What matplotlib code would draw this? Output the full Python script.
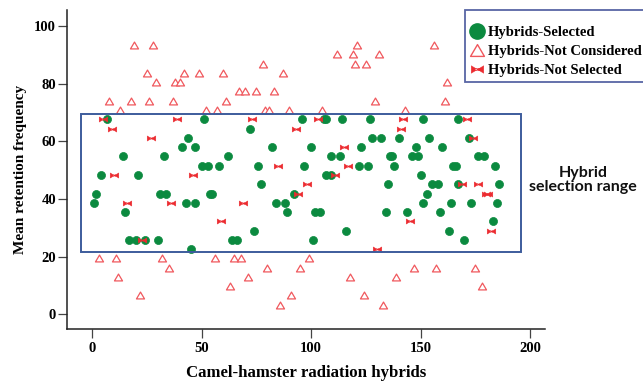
import matplotlib
matplotlib.use('Agg')
import matplotlib.pyplot as plt
from matplotlib.path import Path
from matplotlib.patches import Rectangle
from matplotlib.lines import Line2D

# ---------------- data ----------------
sel_x = [7, 51, 96, 106, 107, 114, 127, 151, 167,
         72,
         44, 128, 132, 140, 154, 172,
         41, 47, 82, 100, 123, 148, 160,
         14, 33, 62, 109, 113, 136, 137, 146, 149, 176, 179,
         50, 53, 58, 76, 97, 122, 126, 138, 165, 166, 184,
         4, 21, 107, 109, 150,
         77, 135, 155, 158, 167, 186,
         2, 31, 34, 54, 55, 92, 153,
         1, 43, 47, 84, 88, 151, 164, 173, 185,
         15, 89, 102, 104, 134, 144, 159,
         183,
         74, 116, 163,
         17, 20, 24, 30, 64, 66, 101, 170,
         45]
sel_y = [67.7, 67.7, 67.7, 67.7, 67.7, 67.7, 67.7, 67.7, 67.7,
         64.5,
         61.3, 61.3, 61.3, 61.3, 61.3, 61.3,
         58.1, 58.1, 58.1, 58.1, 58.1, 58.1, 58.1,
         54.8, 54.8, 54.8, 54.8, 54.8, 54.8, 54.8, 54.8, 54.8, 54.8, 54.8,
         51.6, 51.6, 51.6, 51.6, 51.6, 51.6, 51.6, 51.6, 51.6, 51.6, 51.6,
         48.4, 48.4, 48.4, 48.4, 48.4,
         45.2, 45.2, 45.2, 45.2, 45.2, 45.2,
         41.9, 41.9, 41.9, 41.9, 41.9, 41.9, 41.9,
         38.7, 38.7, 38.7, 38.7, 38.7, 38.7, 38.7, 38.7, 38.7,
         35.5, 35.5, 35.5, 35.5, 35.5, 35.5, 35.5,
         32.3,
         29.0, 29.0, 29.0,
         25.8, 25.8, 25.8, 25.8, 25.8, 25.8, 25.8, 25.8,
         22.6]

nc_x = [19, 28, 121, 156,
        112, 119, 131,
        78, 120, 125,
        25, 42, 49, 60, 87,
        29, 38, 40, 162,
        67, 70, 75, 83,
        8, 18, 26, 37, 61, 129, 161,
        13, 52, 57, 79, 81, 90, 105, 143,
        3, 11, 32, 56, 65, 68, 99,
        35, 80, 95, 147, 157, 175,
        12, 71, 118, 139,
        63, 178,
        22, 91, 124,
        86, 133]
nc_y = [93.5, 93.5, 93.5, 93.5,
        90.3, 90.3, 90.3,
        87.1, 87.1, 87.1,
        83.9, 83.9, 83.9, 83.9, 83.9,
        80.6, 80.6, 80.6, 80.6,
        77.4, 77.4, 77.4, 77.4,
        74.2, 74.2, 74.2, 74.2, 74.2, 74.2, 74.2,
        71.0, 71.0, 71.0, 71.0, 71.0, 71.0, 71.0, 71.0,
        19.4, 19.4, 19.4, 19.4, 19.4, 19.4, 19.4,
        16.1, 16.1, 16.1, 16.1, 16.1, 16.1,
        12.9, 12.9, 12.9, 12.9,
        9.7, 9.7,
        6.5, 6.5, 6.5,
        3.2, 3.2]

ns_x = [5, 39, 73, 103, 142, 171,
        9, 93, 141,
        27, 174,
        115,
        85, 117,
        10, 46, 111,
        98, 169, 176,
        94, 180, 181,
        16, 36, 69,
        59, 145,
        182,
        23,
        130]
ns_y = [67.7, 67.7, 67.7, 67.7, 67.7, 67.7,
        64.5, 64.5, 64.5,
        61.3, 61.3,
        58.1,
        51.6, 51.6,
        48.4, 48.4, 48.4,
        45.2, 45.2, 45.2,
        41.9, 41.9, 41.9,
        38.7, 38.7, 38.7,
        32.3, 32.3,
        29.0,
        25.8,
        22.6]

range_x0, range_x1 = -5, 196
range_y0, range_y1 = 21.5, 69.5

x_ticks = [0, 50, 100, 150, 200]
y_ticks = [0, 20, 40, 60, 80, 100]
labels = ['Hybrids-Selected', 'Hybrids-Not Considered', 'Hybrids-Not Selected']

# ---------------- styles ----------------
GREEN = '#0b8a3f'
TRI = '#f0585d'
BOW = '#ec2b30'
NAVY = '#2f3f8f'
BOXC = '#3d5c9c'
SERIF = 'Liberation Serif'

bow_path = Path(
    [(-1, 0.6), (-1, -0.6), (0, 0), (-1, 0.6),
     (1, 0.6), (1, -0.6), (0, 0), (1, 0.6),
     (-0.35, 0.13), (0.35, 0.13), (0.35, -0.13), (-0.35, -0.13), (-0.35, 0.13)],
    [Path.MOVETO, Path.LINETO, Path.LINETO, Path.CLOSEPOLY,
     Path.MOVETO, Path.LINETO, Path.LINETO, Path.CLOSEPOLY,
     Path.MOVETO, Path.LINETO, Path.LINETO, Path.LINETO, Path.CLOSEPOLY])
tri_path = Path([(0, 0.85), (-1, -0.85), (1, -0.85), (0, 0.85)],
                [Path.MOVETO, Path.LINETO, Path.LINETO, Path.CLOSEPOLY])

fig = plt.figure(figsize=(6.43, 3.83), dpi=100)
ax = fig.add_axes([67 / 643, 54 / 383, 478 / 643, 319 / 383])

ax.plot(nc_x, nc_y, linestyle='none', marker=tri_path, ms=5.8,
        mfc='white', mec=TRI, mew=0.9, zorder=3)
ax.plot(sel_x, sel_y, linestyle='none', marker='o', ms=5.8,
        mfc=GREEN, mec=GREEN, mew=0.5, zorder=4)
ax.plot(ns_x, ns_y, linestyle='none', marker=bow_path, ms=6.2,
        mfc=BOW, mec=BOW, mew=0.3, zorder=5)

ax.add_patch(Rectangle((range_x0, range_y0), range_x1 - range_x0, range_y1 - range_y0,
                       fill=False, edgecolor=BOXC, lw=1.4, zorder=6))

ax.set_xlim(-11.4, 206.8)
ax.set_ylim(-5.2, 105.7)
ax.set_xticks(x_ticks)
ax.set_yticks(y_ticks)
for s in ['top', 'right']:
    ax.spines[s].set_visible(False)
for s in ['left', 'bottom']:
    ax.spines[s].set_linewidth(1.1)
    ax.spines[s].set_color('#222222')
ax.tick_params(axis='x', direction='out', length=6.5, width=0.9, pad=3, color='#444444')
ax.tick_params(axis='y', direction='out', length=6.5, width=0.9, pad=1.5, color='#444444')
for lab in ax.get_xticklabels() + ax.get_yticklabels():
    lab.set_fontfamily(SERIF)
    lab.set_fontweight('bold')
    lab.set_fontsize(10.5)

ax.set_xlabel('Camel-hamster radiation hybrids', fontfamily=SERIF,
              fontweight='bold', fontsize=12.1, labelpad=7)
ax.set_ylabel('Mean retention frequency', fontfamily=SERIF,
              fontweight='bold', fontsize=11, labelpad=5)

handles = [
    Line2D([], [], linestyle='none', marker='o', ms=11, mfc=GREEN, mec=GREEN),
    Line2D([], [], linestyle='none', marker=tri_path, ms=10, mfc='white', mec=TRI, mew=1.0),
    Line2D([], [], linestyle='none', marker=bow_path, ms=9, mfc=BOW, mec=BOW, mew=0.3),
]
leg = fig.legend(handles, labels, loc='upper left',
                 bbox_to_anchor=(465 / 643, 1 - 10 / 383), borderaxespad=0,
                 frameon=True, fancybox=False, edgecolor=NAVY,
                 prop={'family': SERIF, 'weight': 'bold', 'size': 10.5},
                 handlelength=1.0, handletextpad=0.2, borderpad=0.35,
                 labelspacing=0.4, title=' ', title_fontsize=3.5)
leg.get_frame().set_linewidth(1.3)

fig.text(583 / 643, 1 - 180 / 383, 'Hybrid\nselection range', ha='center', va='center',
         family='Lato', fontweight='bold', fontsize=11.5, linespacing=1.05,
         multialignment='center', color='#111111')

fig.savefig('out.png', dpi=100)
